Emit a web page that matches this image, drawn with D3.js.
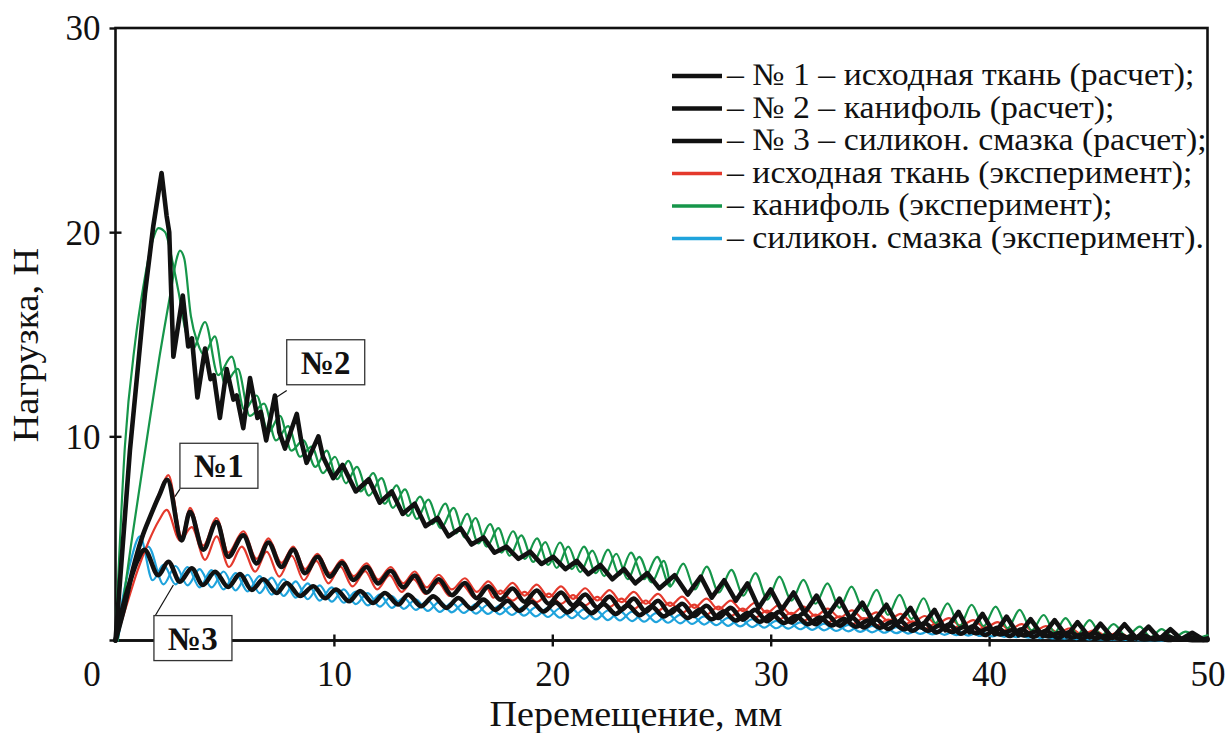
<!DOCTYPE html>
<html>
<head>
<meta charset="utf-8">
<script src="https://cdn.jsdelivr.net/npm/d3@7"></script>
<style>
  body { margin: 0; background: #fff; }
  svg { display: block; }
  text { font-family: 'Liberation Serif', 'Times New Roman', serif; fill: #111; }
</style>
</head>
<body>
<svg id="chart" width="1227" height="733"></svg>
<script>
// ---- data (x: мм, y: Н) -------------------------------------------------

// № 1 – исходная ткань (расчет)
const calc1 = [[0,0],[0.4,1.6],[0.8,3.5],[1.2,5.0],[1.6,6.1],[2.0,7.1],[2.37,7.87],[3.03,4.9],[3.41,6.3],[4.02,4.45],[4.63,5.8],[5.16,4.1],[5.85,5.15],[6.46,3.78],[7.0,4.8],[7.6,3.6],[8.14,4.45],[8.68,3.3],[9.25,4.1],[9.82,3.13],[10.37,3.8],[10.9,2.97],[11.5,3.6],[12.03,2.8],[12.6,3.42],[13.18,2.6],[13.7,3.18],[14.25,2.35],[14.8,3.0],[15.4,2.22],[16.0,2.82],[16.54,2.07],[17.07,2.65],[17.62,2.0],[18.18,2.55],[18.73,1.9],[19.29,2.45],[19.84,1.8],[20.4,2.35],[20.95,1.72],[21.51,2.25],[22.06,1.62],[22.62,2.15],[23.17,1.52],[23.73,2.05],[24.28,1.42],[24.84,1.95],[25.39,1.32],[25.95,1.8],[26.5,1.2],[27.06,1.7],[27.61,1.1],[28.17,1.6],[28.72,1.02],[29.28,1.5],[29.83,0.95],[30.39,1.4],[30.94,0.88],[31.5,1.32],[32.05,0.8],[32.61,1.22],[33.16,0.72],[33.72,1.12],[34.27,0.64],[34.83,1.04],[35.38,0.56],[35.94,0.95],[36.49,0.48],[37.05,0.86],[37.6,0.4],[38.16,0.78],[38.71,0.33],[39.27,0.7],[39.82,0.27],[40.38,0.62],[40.93,0.22],[41.49,0.55],[42.04,0.18],[42.6,0.48],[43.15,0.14],[43.71,0.42],[44.26,0.1],[44.82,0.36],[45.37,0.08],[45.93,0.3],[46.48,0.06],[47.04,0.25],[47.59,0.05],[48.15,0.2],[48.7,0.04],[49.26,0.15],[49.8,0.03],[50,0.05]];

// № 2 – канифоль (расчет)
const calc2 = [[0,0],[0.66,9.3],[1.35,17.0],[1.73,20.3],[2.11,22.9],[2.34,20.8],[2.46,20.0],[2.65,13.9],[3.08,16.9],[3.33,14.4],[3.5,14.8],[3.75,11.9],[4.1,14.3],[4.35,12.8],[4.5,13.0],[4.78,10.9],[5.09,13.3],[5.4,11.8],[5.55,12.0],[5.85,10.4],[6.16,12.85],[6.5,10.9],[6.65,11.2],[6.9,9.8],[7.3,12.0],[7.5,10.2],[7.76,9.4],[8.3,11.1],[8.5,9.8],[8.75,8.7],[9.29,10.0],[9.5,9.0],[9.97,7.95],[10.4,8.6],[11.0,7.3],[11.6,7.9],[12.1,6.75],[12.65,7.3],[13.15,6.2],[13.7,6.7],[14.2,5.6],[14.75,6.0],[15.25,5.1],[15.8,5.5],[16.3,4.7],[16.85,5.05],[17.35,4.3],[17.9,4.6],[18.45,4.0],[18.98,4.35],[19.5,3.75],[20.05,4.1],[20.6,3.5],[21.12,3.9],[21.65,3.25],[22.2,3.7],[22.75,3.0],[23.28,3.5],[23.8,2.8],[24.35,3.3],[24.9,2.55],[25.6,3.2],[26.2,2.25],[26.8,3.13],[27.3,2.1],[27.87,2.95],[28.4,1.95],[28.94,2.8],[29.45,1.6],[30.0,2.5],[30.5,1.5],[31.05,2.35],[31.55,1.35],[32.1,2.2],[32.6,1.2],[33.15,2.05],[33.65,1.05],[34.2,1.85],[34.7,0.9],[35.3,1.75],[35.8,0.8],[36.4,1.6],[36.9,0.65],[37.5,1.5],[38.0,0.5],[38.6,1.4],[39.1,0.4],[39.7,1.3],[40.25,0.3],[40.8,1.17],[41.35,0.25],[41.9,1.05],[42.45,0.22],[43.0,1.0],[43.55,0.2],[44.05,0.9],[44.6,0.15],[45.1,0.82],[45.65,0.12],[46.2,0.8],[46.75,0.1],[47.3,0.68],[47.8,0.08],[48.3,0.55],[48.8,0.06],[49.3,0.38],[49.8,0.05],[50,0.1]];

// № 3 – силикон. смазка (расчет)
const calc3 = [[0,0],[0.3,1.5],[0.7,3.0],[1.0,3.9],[1.33,4.44],[1.96,3.2],[2.42,3.86],[2.95,2.88],[3.49,3.54],[4.0,2.72],[4.56,3.37],[5.16,2.62],[5.7,3.25],[6.24,2.48],[6.77,3.0],[7.38,2.33],[7.84,2.82],[8.45,2.18],[9.06,2.66],[9.6,2.07],[10.1,2.5],[10.7,1.92],[11.2,2.42],[11.8,1.84],[12.34,2.33],[12.95,1.76],[13.4,2.24],[14.0,1.68],[14.55,2.16],[15.16,1.6],[15.7,2.08],[16.3,1.56],[16.84,2.0],[17.4,1.5],[17.95,1.95],[18.5,1.46],[19.05,1.9],[19.6,1.42],[20.15,1.86],[20.7,1.38],[21.25,1.82],[21.8,1.34],[22.35,1.78],[22.9,1.3],[23.45,1.72],[24.0,1.24],[24.55,1.66],[25.1,1.18],[25.65,1.58],[26.2,1.1],[26.75,1.5],[27.3,1.04],[27.85,1.42],[28.4,0.98],[28.95,1.35],[29.5,0.92],[30.05,1.28],[30.6,0.86],[31.15,1.2],[31.7,0.8],[32.25,1.12],[32.8,0.74],[33.35,1.05],[33.9,0.68],[34.45,0.98],[35.0,0.62],[35.55,0.9],[36.1,0.55],[36.65,0.82],[37.2,0.48],[37.75,0.74],[38.3,0.42],[38.85,0.66],[39.4,0.36],[39.95,0.58],[40.5,0.3],[41.05,0.5],[41.6,0.25],[42.15,0.44],[42.7,0.2],[43.25,0.38],[43.8,0.15],[44.35,0.32],[44.9,0.11],[45.45,0.26],[46.0,0.08],[46.55,0.2],[47.1,0.05],[47.65,0.14],[48.2,0.03],[48.75,0.08],[49.3,0.02],[50,0.02]];

// исходная ткань (эксперимент), two records
const exp1a = [[0,0],[0.4,1.5],[0.8,3.4],[1.2,4.9],[1.6,6.1],[2.0,7.2],[2.42,8.1],[3.03,5.1],[3.41,6.5],[4.02,4.65],[4.63,6.0],[5.16,4.3],[5.85,5.35],[6.46,4.0],[7.0,5.0],[7.6,3.8],[8.14,4.6],[8.68,3.5],[9.25,4.25],[9.82,3.3],[10.37,3.95],[10.9,3.15],[11.5,3.78],[12.03,2.98],[12.6,3.6],[13.18,2.8],[13.7,3.38],[14.25,2.6],[14.8,3.22],[15.4,2.5],[16.0,3.05],[16.54,2.38],[17.07,2.9],[17.62,2.28],[18.18,2.82],[18.73,2.2],[19.29,2.74],[19.84,2.12],[20.4,2.65],[20.95,2.04],[21.51,2.56],[22.06,1.96],[22.62,2.47],[23.17,1.88],[23.73,2.38],[24.28,1.8],[24.84,2.28],[25.39,1.7],[25.95,2.15],[26.5,1.6],[27.06,2.05],[27.61,1.52],[28.17,1.95],[28.72,1.44],[29.28,1.85],[29.83,1.36],[30.39,1.75],[30.94,1.28],[31.5,1.66],[32.05,1.2],[32.61,1.56],[33.16,1.12],[33.72,1.48],[34.27,1.04],[34.83,1.38],[35.38,0.96],[35.94,1.3],[36.49,0.88],[37.05,1.2],[37.6,0.8],[38.16,1.1],[38.71,0.72],[39.27,1.0],[39.82,0.62],[40.38,0.9],[40.93,0.54],[41.49,0.8],[42.04,0.45],[42.6,0.7],[43.15,0.38],[43.71,0.6],[44.26,0.3],[44.82,0.5],[45.37,0.22],[45.93,0.4],[46.48,0.15],[47.04,0.3],[47.59,0.08],[48.15,0.18],[48.7,0.04],[49.3,0.03]];
const exp1b = [[0,0],[0.5,1.7],[1.0,3.4],[1.5,4.8],[2.0,5.9],[2.34,6.4],[2.95,4.9],[3.49,5.55],[4.1,3.95],[4.63,5.1],[5.2,3.6],[5.78,4.6],[6.4,3.37],[6.92,4.35],[7.5,3.13],[8.07,4.15],[8.62,2.95],[9.2,3.9],[9.75,2.8],[10.3,3.62],[10.85,2.65],[11.43,3.4],[11.98,2.5],[12.55,3.2],[13.1,2.38],[13.65,3.0],[14.2,2.28],[14.78,2.82],[15.3,2.18],[15.9,2.7],[16.45,2.08],[17.0,2.58],[17.3,2.1],[17.62,2.45],[18.18,1.95],[18.73,2.38],[19.29,1.88],[19.84,2.3],[20.4,1.8],[20.95,2.22],[21.51,1.72],[22.06,2.14],[22.62,1.64],[23.17,2.05],[23.73,1.55],[24.28,1.96],[24.84,1.46],[25.39,1.86],[25.95,1.36],[26.5,1.76],[27.06,1.27],[27.61,1.66],[28.17,1.2],[28.72,1.56],[29.28,1.12],[29.83,1.46],[30.39,1.04],[30.94,1.36],[31.5,0.96],[32.05,1.27],[32.61,0.88],[33.16,1.18],[33.72,0.8],[34.27,1.1],[34.83,0.72],[35.38,1.02],[35.94,0.64],[36.49,0.94],[37.05,0.56],[37.6,0.85],[38.16,0.48],[38.71,0.76],[39.27,0.4],[39.82,0.67],[40.38,0.33],[40.93,0.58],[41.49,0.26],[42.04,0.5],[42.6,0.2],[43.15,0.42],[43.71,0.14],[44.26,0.34],[44.82,0.09],[45.37,0.26],[45.93,0.05],[46.48,0.18],[47.04,0.03],[47.59,0.1],[48.2,0.02]];

// канифоль (эксперимент), two records
const exp2a = [[0,0],[0.43,9.5],[0.9,14.6],[1.27,17.3],[1.7,19.6],[1.96,20.2],[2.27,20.0],[2.6,18.6],[2.9,17.0],[3.2,15.2],[3.55,14.3],[4.1,15.6],[4.7,13.0],[5.32,13.9],[5.9,11.3],[6.46,12.0],[7.0,10.2],[7.53,11.0],[8.05,9.3],[8.6,9.8],[9.15,8.5],[9.67,9.3],[10.15,7.9],[10.66,8.8],[11.23,7.3],[11.8,8.2],[12.33,6.7],[12.87,7.6],[13.4,6.1],[13.94,7.05],[14.52,5.7],[15.1,6.7],[15.6,5.25],[16.1,6.2],[16.62,4.75],[17.15,5.7],[17.68,4.3],[18.2,5.35],[18.75,4.0],[19.3,5.0],[19.82,3.7],[20.35,4.8],[20.9,3.5],[21.45,4.6],[22.0,3.3],[22.55,4.45],[23.08,3.2],[23.6,4.3],[24.2,3.0],[24.8,4.1],[25.4,2.65],[26.0,3.77],[26.53,2.5],[27.07,3.62],[27.63,2.35],[28.2,3.46],[28.75,2.2],[29.3,3.3],[29.85,2.0],[30.4,3.13],[30.95,1.95],[31.5,2.97],[32.05,1.8],[32.6,2.8],[33.15,1.6],[33.7,2.64],[34.27,1.45],[34.85,2.48],[35.37,1.25],[35.9,2.23],[36.45,1.05],[37.0,2.07],[37.55,0.85],[38.1,1.82],[38.65,0.7],[39.2,1.75],[39.75,0.7],[40.3,1.66],[40.85,0.6],[41.4,1.5],[41.95,0.5],[42.5,1.25],[43.0,0.4],[43.5,1.1],[44.05,0.3],[44.6,1.0],[45.15,0.25],[45.7,0.8],[46.3,0.2],[46.9,0.68],[47.4,0.17],[47.9,0.56],[48.45,0.15],[49.0,0.43],[49.6,0.15],[50,0.25]];
const exp2b = [[0.1,0],[0.7,4.6],[1.4,9.6],[2.0,13.8],[2.5,16.9],[2.8,18.7],[2.95,19.1],[3.15,18.7],[3.45,15.9],[3.75,14.6],[4.05,14.0],[4.55,14.9],[5.0,12.6],[5.6,13.3],[6.15,11.0],[6.8,11.6],[7.35,9.8],[7.9,10.5],[8.45,9.0],[8.98,9.5],[9.5,8.2],[10.05,9.0],[10.55,7.7],[11.05,8.5],[11.6,7.1],[12.18,7.95],[12.7,6.5],[13.25,7.4],[13.8,5.95],[14.32,6.9],[14.9,5.5],[15.48,6.5],[16.0,5.05],[16.48,6.0],[17.0,4.6],[17.53,5.5],[18.05,4.15],[18.58,5.15],[19.13,3.85],[19.68,4.82],[20.2,3.55],[20.73,4.6],[21.28,3.35],[21.83,4.4],[22.38,3.15],[22.93,4.25],[23.45,3.0],[23.98,4.1],[24.55,2.85],[25.1,3.9],[25.4,2.65]];

// силикон. смазка (эксперимент), two records
const exp3a = [[0,0],[0.3,1.9],[0.7,3.9],[1.12,5.1],[1.7,2.95],[2.2,3.7],[2.75,2.75],[3.3,3.6],[3.85,2.6],[4.4,3.45],[4.95,2.5],[5.5,3.3],[6.05,2.4],[6.6,3.15],[7.15,2.25],[7.7,3.0],[8.25,2.1],[8.8,2.8],[9.35,1.95],[9.9,2.6],[10.45,1.85],[11.0,2.4],[11.55,1.72],[12.1,2.25],[12.65,1.6],[13.2,2.1],[13.75,1.5],[14.3,1.95],[14.85,1.4],[15.4,1.85],[15.95,1.35],[16.5,1.78],[17.05,1.3],[17.6,1.72],[18.15,1.25],[18.7,1.66],[19.25,1.18],[19.8,1.6],[20.35,1.12],[20.9,1.55],[21.45,1.06],[22.0,1.5],[22.55,1.0],[23.1,1.44],[23.65,0.95],[24.2,1.38],[24.75,0.9],[25.3,1.3],[25.85,0.84],[26.4,1.22],[26.95,0.78],[27.5,1.15],[28.05,0.72],[28.6,1.08],[29.15,0.66],[29.7,1.0],[30.25,0.6],[30.8,0.92],[31.35,0.55],[31.9,0.86],[32.45,0.5],[33.0,0.8],[33.55,0.45],[34.1,0.74],[34.65,0.4],[35.2,0.68],[35.75,0.36],[36.3,0.62],[36.85,0.32],[37.4,0.56],[37.95,0.28],[38.5,0.5],[39.05,0.24],[39.6,0.44],[40.15,0.2],[40.7,0.38],[41.25,0.16],[41.8,0.32],[42.35,0.12],[42.9,0.26],[43.45,0.09],[44.0,0.2],[44.55,0.06],[45.1,0.14],[45.65,0.04],[46.2,0.08],[46.8,0.02],[48,0.01]];
const exp3b = [[0.1,0],[0.5,2.2],[1.0,3.9],[1.5,4.6],[2.2,2.75],[2.75,3.65],[3.3,2.7],[3.85,3.5],[4.4,2.6],[4.95,3.38],[5.5,2.45],[6.05,3.22],[6.6,2.32],[7.15,3.08],[7.7,2.18],[8.25,2.9],[8.8,2.02],[9.35,2.7],[9.9,1.9],[10.45,2.5],[11.0,1.78],[11.55,2.32],[12.1,1.66],[12.65,2.18],[13.2,1.55],[13.75,2.02],[14.3,1.45],[14.85,1.9],[15.4,1.38],[15.95,1.82],[16.5,1.32],[17.05,1.75],[17.6,1.28],[18.15,1.7],[18.7,1.22],[19.25,1.63],[19.8,1.15],[20.35,1.58],[20.9,1.09],[21.45,1.52],[22.0,1.03],[22.55,1.47],[23.1,0.98],[23.65,1.41],[24.2,0.92],[24.75,1.34],[25.3,0.87],[25.85,1.26],[26.4,0.81],[26.95,1.18],[27.5,0.75],[28.05,1.11],[28.6,0.69],[29.15,1.04],[29.7,0.63],[30.25,0.96],[30.8,0.58],[31.35,0.89],[31.9,0.52],[32.45,0.83],[33.0,0.47],[33.55,0.77],[34.1,0.42],[34.65,0.71],[35.2,0.38],[35.75,0.65],[36.3,0.34],[36.85,0.59],[37.4,0.3],[37.95,0.53],[38.5,0.26],[39.05,0.47],[39.6,0.22],[40.15,0.41],[40.7,0.18],[41.25,0.35],[41.8,0.14],[42.35,0.29],[42.9,0.1],[43.45,0.23],[44.0,0.07],[44.55,0.17],[45.1,0.05],[45.65,0.11],[46.2,0.03],[46.8,0.05],[48,0.01]];

const xTicks = [0, 10, 20, 30, 40, 50];
const yTicks = [10, 20, 30];

const legendLabels = [
  '– № 1 – исходная ткань (расчет);',
  '– № 2 – канифоль (расчет);',
  '– № 3 – силикон. смазка (расчет);',
  '– исходная ткань (эксперимент);',
  '– канифоль (эксперимент);',
  '– силикон. смазка (эксперимент).'
];

// callouts: label, box top-left corner and leader line, in data units
const callouts = [
  { label: '№2', box: [7.84, 14.73], from: [7.84, 12.25], to: [7.3, 11.87] },
  { label: '№1', box: [2.95, 9.66], from: [2.95, 7.41], to: [2.72, 7.05] },
  { label: '№3', box: [1.76, 1.22], from: [1.81, 1.2], to: [2.65, 2.72] }
];

// ---- layout -------------------------------------------------------------
const RED = '#e4392c', GREEN = '#16964a', BLUE = '#1fa3dc', BLACK = '#111';
const STRETCH = 1.09; // the source lettering is a little wider than Liberation Serif

const svg = d3.select('#chart');
const plotL = 115.5, plotR = 1207.5, plotT = 28, plotB = 640.5;

const x = d3.scaleLinear().domain([0, 50]).range([plotL, plotR]);
const y = d3.scaleLinear().domain([0, 30]).range([plotB, plotT]);

const series = [
  { data: exp3b, color: BLUE, width: 2.2 },
  { data: exp3a, color: BLUE, width: 2.2 },
  { data: exp1b, color: RED, width: 2.2 },
  { data: exp1a, color: RED, width: 2.2 },
  { data: exp2b, color: GREEN, width: 2.2 },
  { data: exp2a, color: GREEN, width: 2.2 },
  { data: calc3, color: BLACK, width: 4.6, curve: d3.curveMonotoneX },
  { data: calc1, color: BLACK, width: 4.6, curve: d3.curveMonotoneX },
  { data: calc2, color: BLACK, width: 4.6, curve: d3.curveLinear }
];

// frame
svg.append('rect')
  .attr('x', plotL).attr('y', plotT)
  .attr('width', plotR - plotL).attr('height', plotB - plotT)
  .attr('fill', 'none').attr('stroke', BLACK).attr('stroke-width', 2.6);

// x axis
const gx = svg.append('g')
  .attr('transform', `translate(0,${plotB})`)
  .call(d3.axisBottom(x).tickValues(xTicks).tickSize(6).tickSizeOuter(0));
gx.select('.domain').attr('d', `M${plotL - 6},0H${plotR}`).attr('stroke-width', 2.6).attr('stroke', BLACK);
gx.selectAll('.tick line').attr('y1', -6).attr('y2', 6).attr('stroke-width', 2.4).attr('stroke', BLACK);
gx.selectAll('.tick text')
  .attr('y', 45).attr('dy', 0)
  .style('font-size', '35px')
  .attr('dx', (d) => (d === 0 ? -24 : 0));
gx.selectAll('.tick').filter((d) => d === 0 || d === 50).select('line').remove();

// y axis
const gy = svg.append('g')
  .attr('transform', `translate(${plotL},0)`)
  .call(d3.axisLeft(y).tickValues(yTicks).tickSize(6).tickSizeOuter(0));
gy.select('.domain').remove();
gy.selectAll('.tick line').attr('x1', -6).attr('x2', 6).attr('stroke-width', 2.4).attr('stroke', BLACK);
gy.selectAll('.tick text')
  .attr('x', -15).attr('dy', '0.34em')
  .style('font-size', '35px');
gy.selectAll('.tick').filter((d) => d === 30).select('line').attr('x2', 0);

// axis titles
svg.append('text')
  .attr('transform', `translate(636,726) scale(${STRETCH},1)`)
  .attr('text-anchor', 'middle')
  .style('font-size', '35px')
  .text('Перемещение, мм');

svg.append('text')
  .attr('transform', `translate(38,345) rotate(-90) scale(${STRETCH},1)`)
  .attr('text-anchor', 'middle')
  .style('font-size', '35px')
  .text('Нагрузка, Н');

// curves
const lines = svg.append('g').attr('fill', 'none')
  .attr('stroke-linejoin', 'round').attr('stroke-linecap', 'round');

lines.selectAll('path')
  .data(series)
  .join('path')
  .attr('d', (s) => d3.line()
    .x((d) => x(d[0]))
    .y((d) => y(d[1]))
    .curve(s.curve || d3.curveMonotoneX)(s.data))
  .attr('stroke', (s) => s.color)
  .attr('stroke-width', (s) => s.width);

// callouts
const notes = svg.append('g').selectAll('g')
  .data(callouts)
  .join('g');

notes.append('line')
  .attr('x1', (d) => x(d.from[0])).attr('y1', (d) => y(d.from[1]))
  .attr('x2', (d) => x(d.to[0])).attr('y2', (d) => y(d.to[1]))
  .attr('stroke', BLACK).attr('stroke-width', 1.2);

notes.append('rect')
  .attr('x', (d) => x(d.box[0])).attr('y', (d) => y(d.box[1]))
  .attr('width', 78).attr('height', 45)
  .attr('fill', '#fff').attr('stroke', '#333').attr('stroke-width', 1.3);

notes.append('text')
  .attr('x', (d) => x(d.box[0]) + 39).attr('y', (d) => y(d.box[1]) + 34)
  .attr('text-anchor', 'middle')
  .style('font-size', '33px').style('font-weight', 'bold')
  .text((d) => d.label);

// legend
const legendColors = [BLACK, BLACK, BLACK, RED, GREEN, BLUE];
const legend = svg.append('g').attr('transform', 'translate(672,76)');
const rows = legend.selectAll('g')
  .data(legendLabels)
  .join('g')
  .attr('transform', (d, i) => `translate(0,${i * 32.5})`);

rows.append('line')
  .attr('x1', 0).attr('x2', 50)
  .attr('stroke', (d, i) => legendColors[i])
  .attr('stroke-width', (d, i) => (i < 3 ? 4.6 : 3.4));

rows.append('text')
  .attr('transform', `translate(55,9) scale(${STRETCH},1)`)
  .style('font-size', '31px')
  .text((d) => d);
</script>
</body>
</html>
